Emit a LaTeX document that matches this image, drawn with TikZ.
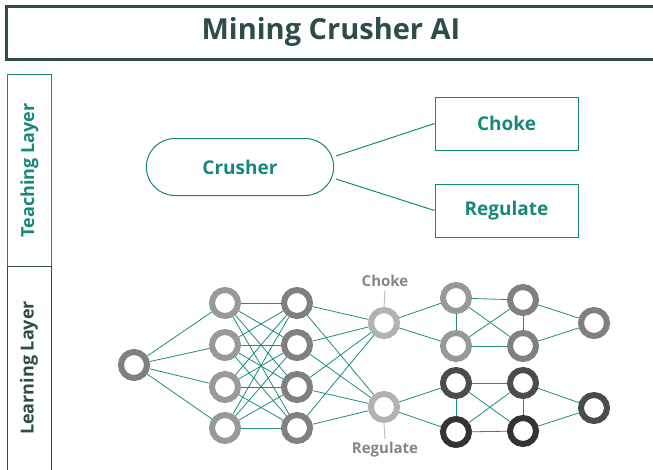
\documentclass[tikz,border=0pt]{standalone}
\usepackage{fontspec}
\setmainfont{Open Sans}
\usetikzlibrary{shapes.misc}
\definecolor{teal1}{HTML}{16887A}
\definecolor{dkgreen}{HTML}{2E4D4A}
\definecolor{edgec}{HTML}{1E8C7C}
\tikzset{
  nn/.style={circle, draw=#1, line width=6pt, minimum size=26pt, inner sep=0pt},
  ed/.style={edgec, line width=0.8pt},
  tbox/.style={draw=teal1, line width=1pt, text=teal1, font=\fontsize{19}{22}\selectfont\bfseries},
  nlab/.style={text=gray!95, font=\fontsize{15}{17}\selectfont\bfseries},
}
\begin{document}
\begin{tikzpicture}[x=1pt,y=-1pt]
\useasboundingbox (0,0) rectangle (653,469);
\clip (0,0) rectangle (653,469);
% title
\node[draw=dkgreen, line width=2.5pt, minimum width=660pt, minimum height=53pt, anchor=north west, inner sep=0pt] (title) at (5,5) {};
\node[text=dkgreen, font=\fontsize{29}{32}\selectfont\bfseries] (titletext) at (331,32) {Mining Crusher AI};
% layer boxes
\node[draw=teal1, line width=1pt, minimum width=44pt, minimum height=192pt, anchor=north west, inner sep=0pt] (teach) at (7,74) {};
\node[text=teal1, rotate=90, font=\fontsize{18}{20}\selectfont\bfseries] at (teach.center) {Teaching Layer};
\node[draw=dkgreen, line width=1pt, minimum width=44pt, minimum height=220pt, anchor=north west, inner sep=0pt] (learn) at (7,266) {};
\node[text=dkgreen, rotate=90, font=\fontsize{18}{20}\selectfont\bfseries] at (29,368) {Learning Layer};
% teaching layer
\node[tbox, rounded rectangle, minimum width=194pt, minimum height=57pt] (crusher) at (240,167) {Crusher};
\node[tbox, rectangle, minimum width=143pt, minimum height=53pt] (choke) at (506.5,123.5) {Choke};
\node[tbox, rectangle, minimum width=143pt, minimum height=53pt] (regulate) at (506.5,210.5) {Regulate};
\draw[teal1, line width=1pt] (336,156) -- (choke.west);
\draw[teal1, line width=1pt] (336,179) -- (regulate.west);
% neural net nodes
\node[nn={black!50}] (in) at (134,365) {};
\foreach \i/\y in {1/303,2/345,3/387,4/428}{
  \node[nn={black!40}] (a\i) at (225,\y) {};
  \node[nn={black!50}] (b\i) at (297,\y) {};
}
\node[nn={black!30}] (ck) at (384,323) {};
\node[nn={black!30}] (rg) at (384,407) {};
\node[nlab] (cklab) at (385,281) {Choke};
\node[nlab] (rglab) at (385,450) {Regulate};
\draw[black!25, line width=1pt] (cklab.south) -- (ck.north);
\draw[black!25, line width=1pt] (rglab.north) -- (rg.south);
% right part
\node[nn={black!40}] (c1) at (456,298) {};
\node[nn={black!40}] (c2) at (456,346) {};
\node[nn={black!50}] (d1) at (523,300) {};
\node[nn={black!50}] (d2) at (523,346) {};
\node[nn={black!50}] (o1) at (594,323) {};
\node[nn={black!70}] (e1) at (456,383) {};
\node[nn={black!80}] (e2) at (456,432) {};
\node[nn={black!70}] (f1) at (523,383) {};
\node[nn={black!80}] (f2) at (523,431) {};
\node[nn={black!70}] (o2) at (594,408) {};
% edges
\foreach \i in {1,...,4}{
  \draw[ed] (in) -- (a\i);
  \draw[ed] (b\i) -- (ck);
  \draw[ed] (b\i) -- (rg);
  \foreach \j in {1,...,4}{ \draw[ed] (a\i) -- (b\j); }
}
\draw[ed] (ck) -- (c1); \draw[ed] (ck) -- (c2);
\draw[ed] (c1) -- (c2); \draw[ed] (d1) -- (d2);
\draw[ed] (c1) -- (d1); \draw[ed] (c1) -- (d2);
\draw[ed] (c2) -- (d1); \draw[ed] (c2) -- (d2);
\draw[ed] (d1) -- (o1); \draw[ed] (d2) -- (o1);
\draw[ed] (rg) -- (e1); \draw[ed] (rg) -- (e2);
\draw[ed] (e1) -- (e2); \draw[ed] (f1) -- (f2);
\draw[ed] (e1) -- (f1); \draw[ed] (e1) -- (f2);
\draw[ed] (e2) -- (f1); \draw[ed] (e2) -- (f2);
\draw[ed] (f1) -- (o2); \draw[ed] (f2) -- (o2);
\end{tikzpicture}
\end{document}
